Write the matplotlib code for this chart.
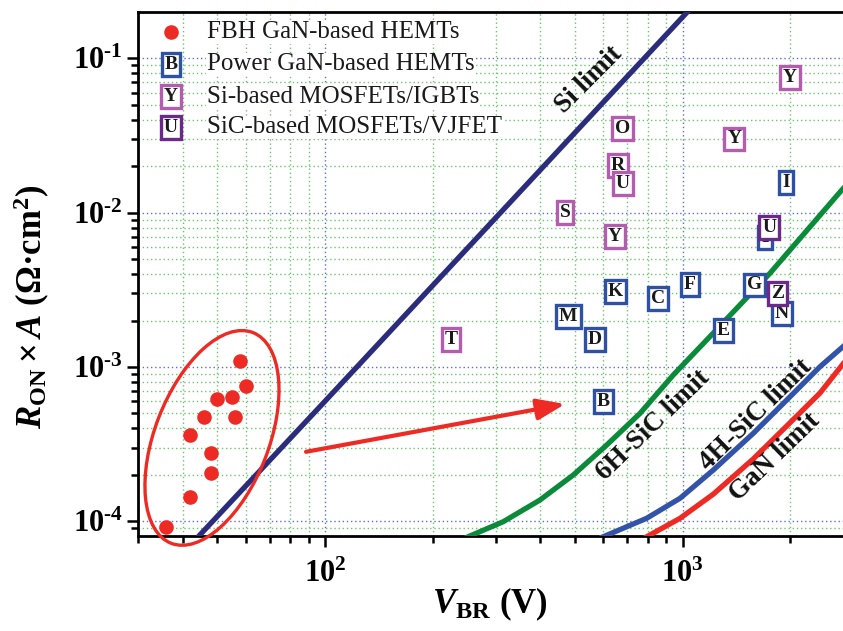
import matplotlib
matplotlib.use('Agg')
import numpy as np
import matplotlib.pyplot as plt
from matplotlib.patches import Ellipse
from matplotlib.transforms import ScaledTranslation
from matplotlib.ticker import LogLocator, FuncFormatter, NullFormatter

# ---------------- data ----------------
fbh_vbr = [36, 42, 48, 48, 42, 46, 50, 55, 56, 58, 60]
fbh_ron = [9.2e-5, 1.44e-4, 2.07e-4, 2.79e-4, 3.64e-4, 4.72e-4, 6.18e-4, 6.37e-4, 4.72e-4, 1.10e-3, 7.57e-4]

gan_labels = ['I', 'B', 'K', 'C', 'F', 'G', 'N', 'E', 'M', 'D', 'I']
gan_vbr = [1700, 600, 647, 855, 1048, 1592, 1891, 1299, 479, 569, 1945]
gan_ron = [6.9e-3, 6.0e-4, 3.1e-3, 2.76e-3, 3.43e-3, 3.40e-3, 2.21e-3, 1.72e-3, 2.12e-3, 1.50e-3, 1.57e-2]

si_labels = ['Y', 'O', 'Y', 'R', 'U', 'S', 'Y', 'T']
si_vbr = [1995, 680, 1394, 658, 680, 469, 647, 225]
si_ron = [7.54e-2, 3.49e-2, 3.0e-2, 2.01e-2, 1.55e-2, 1.006e-2, 6.99e-3, 1.50e-3]

sic_labels = ['U', 'Z']
sic_vbr = [1746, 1843]
sic_ron = [8.0e-3, 3.0e-3]

si_limit_vbr = [40, 100, 1100]
si_limit_ron = [6.2e-5, 6.0e-4, 0.235]

sic6h_vbr = [210, 254, 315, 399, 495, 613, 760, 941, 1167, 1754, 2783, 2900]
sic6h_ron = [6.57e-5, 8.03e-5, 9.94e-5, 1.374e-4, 2.0e-4, 3.12e-4, 5.01e-4, 8.87e-4, 1.496e-3, 4.05e-3, 1.40e-2, 1.55e-2]

sic4h_vbr = [516, 606, 793, 983, 1218, 1576, 1954, 2420, 2806]
sic4h_ron = [6.86e-5, 8.03e-5, 1.046e-4, 1.41e-4, 2.15e-4, 3.72e-4, 6.11e-4, 1.004e-3, 1.354e-3]

ganlim_vbr = [668, 800, 983, 1218, 1576, 1954, 2420, 2806]
ganlim_ron = [6.35e-5, 8.03e-5, 1.046e-4, 1.50e-4, 2.54e-4, 4.15e-4, 6.78e-4, 1.046e-3]

legend_labels = ['FBH GaN-based HEMTs', 'Power GaN-based HEMTs',
                 'Si-based MOSFETs/IGBTs', 'SiC-based MOSFETs/VJFET']
limit_labels = ['Si limit', '6H-SiC limit', '4H-SiC limit', 'GaN limit']

# ---------------- style ----------------
RED = '#EE2A24'
NAVY = '#2B2D7C'
GREEN = '#0B8A3A'
BLUE4H = '#3253A8'
BOXBLUE = '#2F51A3'
PINK = '#B25DAE'
PURPLE = '#6B2A88'

plt.rcParams['font.family'] = ['Liberation Serif', 'DejaVu Serif']
plt.rcParams['mathtext.fontset'] = 'custom'
plt.rcParams['mathtext.rm'] = 'Liberation Serif:bold'
plt.rcParams['mathtext.bf'] = 'Liberation Serif:bold'
plt.rcParams['mathtext.it'] = 'Liberation Serif:italic:bold'
plt.rcParams['mathtext.bfit'] = 'Liberation Serif:italic:bold'
plt.rcParams['mathtext.default'] = 'rm'

W, H = 843, 631
fig = plt.figure(figsize=(W / 100, H / 100), dpi=100)
ax = fig.add_axes([138 / W, 1 - 536 / H, (843 - 138) / W, 524 / H])
ax.set_xscale('log')
ax.set_yscale('log')
ax.set_xlim(30, 2806)
ax.set_ylim(8.03e-5, 0.1995)

ax.xaxis.set_major_locator(LogLocator(base=10, numticks=10))
ax.xaxis.set_minor_locator(LogLocator(base=10, subs=np.arange(2, 10), numticks=20))
ax.yaxis.set_major_locator(LogLocator(base=10, numticks=10))
ax.yaxis.set_minor_locator(LogLocator(base=10, subs=np.arange(2, 10), numticks=20))


def _fmt(v, p):
    e = int(round(np.log10(v)))
    if e < 0:
        return r'$\mathbf{10^{\text{-}%d}}$' % (-e)
    return r'$\mathbf{10^{%d}}$' % e


fmt = FuncFormatter(_fmt)
ax.xaxis.set_major_formatter(fmt)
ax.yaxis.set_major_formatter(fmt)
ax.xaxis.set_minor_formatter(NullFormatter())
ax.yaxis.set_minor_formatter(NullFormatter())

ax.grid(which='major', color='#5B6FD0', linestyle=(0, (1, 2)), lw=1.0)
ax.grid(which='minor', color='#6CC66C', linestyle=(0, (1, 2)), lw=1.0)
ax.set_axisbelow(True)

ax.tick_params(which='both', direction='out', top=False, right=False, width=1.8, color='black')
ax.tick_params(which='major', length=8, labelsize=22)
ax.tick_params(which='minor', length=5)
ax.tick_params(axis='x', which='major', pad=9)
ax.tick_params(axis='y', which='major', pad=3)
for s in ['left', 'bottom', 'top']:
    ax.spines[s].set_linewidth(2.0)
ax.spines['right'].set_visible(False)

# limit lines
ax.plot(si_limit_vbr, si_limit_ron, color=NAVY, lw=3.8, zorder=3)
ax.plot(sic6h_vbr, sic6h_ron, color=GREEN, lw=3.8, zorder=3)
ax.plot(sic4h_vbr, sic4h_ron, color=BLUE4H, lw=3.8, zorder=3)
ax.plot(ganlim_vbr, ganlim_ron, color=RED, lw=3.8, zorder=3)

# limit labels
lab_pos = [(547, 0.0724, 45), (826, 4.21e-4, 44), (1603, 4.89e-4, 44.5), (1811, 2.61e-4, 44)]
for txt, (xv, yv, rot) in zip(limit_labels, lab_pos):
    ax.text(xv, yv, txt, rotation=rot, rotation_mode='anchor', ha='center', va='center',
            fontsize=19.5, fontweight='bold', color='#111111', zorder=4)

# FBH points
ax.plot(fbh_vbr, fbh_ron, 'o', color=RED, ms=10.5, mec='none', zorder=5)

# device boxes
BOXFS = 14


def boxes(labels, xs, ys, color):
    for lab, xv, yv in zip(labels, xs, ys):
        ax.text(xv, yv, lab, ha='center', va='center', fontsize=BOXFS, fontweight='bold',
                color='#1A1A1A', zorder=6,
                bbox=dict(boxstyle='square,pad=0.15', fc='white', ec=color, lw=2.4))


boxes(gan_labels, gan_vbr, gan_ron, BOXBLUE)
boxes(si_labels, si_vbr, si_ron, PINK)
boxes(sic_labels, sic_vbr, sic_ron, PURPLE)

# ellipse around FBH points
ell_tr = fig.dpi_scale_trans + ScaledTranslation(48.3, 3.47e-4, ax.transData)
ax.add_patch(Ellipse((0, 0), 2.26, 1.14, angle=68.8, transform=ell_tr, fill=False,
                     ec=RED, lw=2.4, clip_on=False, zorder=5))

# arrow
ax.annotate('', xy=(469, 5.75e-4), xytext=(88.5, 2.82e-4),
            arrowprops=dict(arrowstyle='-|>,head_length=0.85,head_width=0.32', color=RED,
                            lw=3, mutation_scale=20, shrinkA=0, shrinkB=0), zorder=5)

# manual legend
leg_rows = [32.3, 64.3, 96.7, 127.3]
mx = (171 - 138) / 705
tx = (207 - 138) / 705
rows_y = [(536 - r) / 524 for r in leg_rows]
ax.plot([mx], [rows_y[0]], 'o', color=RED, ms=10.5, mec='none', transform=ax.transAxes,
        clip_on=False, zorder=7)
for yy, lab, col in zip(rows_y[1:], ['B', 'Y', 'U'], [BOXBLUE, PINK, PURPLE]):
    ax.text(mx, yy, lab, transform=ax.transAxes, ha='center', va='center', fontsize=BOXFS,
            fontweight='bold', color='#1A1A1A', zorder=7,
            bbox=dict(boxstyle='square,pad=0.15', fc='white', ec=col, lw=2.4))
for yy, lab in zip(rows_y, legend_labels):
    ax.text(tx, yy, lab, transform=ax.transAxes, ha='left', va='center', fontsize=18,
            color='#1A1A1A', zorder=7, bbox=dict(fc='white', ec='none', pad=0.5))

# axis labels
fig.text(32 / W, 1 - 307 / H, r'$\mathbfit{R}_{\mathbf{ON}}\times\mathbfit{A}\ \mathbf{(\Omega·cm^{2})}$',
         rotation=90, ha='center', va='center', fontsize=25)
fig.text(490 / W, 1 - 604 / H, r'$\mathbfit{V}_{\mathbf{BR}}\ \mathbf{(V)}$',
         ha='center', va='center', fontsize=25)

fig.savefig('out.png', dpi=100)
